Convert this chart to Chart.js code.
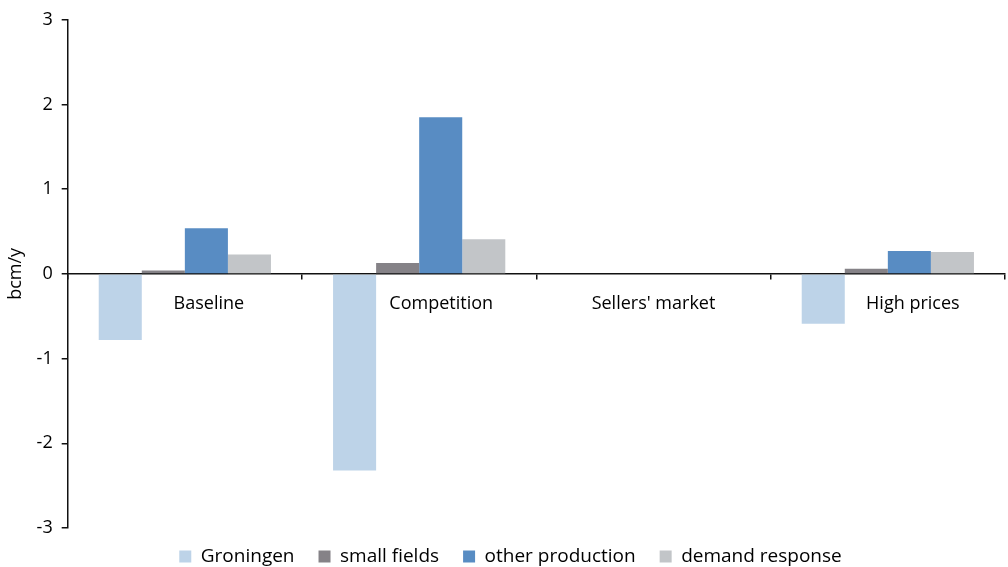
<!DOCTYPE html>
<html>
<head>
<meta charset="utf-8">
<script src="https://cdn.jsdelivr.net/npm/chart.js@4"></script>
<style>
    html, body { margin: 0; padding: 0; background: #fff; }
    #wrap { width: 1008px; height: 567px; }
</style>
</head>
<body>
<div id="wrap"><canvas id="gasChart"></canvas></div>
<script>
// Scenarios and change in gas supply/demand (bcm/y)
const categories = ['Baseline', 'Competition', "Sellers' market", 'High prices'];
const groningen = [-0.78, -2.32, 0, -0.59];
const smallFields = [0.04, 0.13, 0, 0.06];
const otherProduction = [0.54, 1.85, 0, 0.27];
const demandResponse = [0.23, 0.41, 0, 0.26];
const yTicks = [-3, -2, -1, 0, 1, 2, 3];

// Labels sit just below the zero line, nudged right where the Groningen bar is
const labelShift = [24, 22, 0, 25];

const fontFamily = '"Open Sans", "Noto Sans", sans-serif';

// Draw category names under the zero line
const categoryLabels = {
    id: 'categoryLabels',
    afterLayout(chart) {
        // pull the legend a little closer to the plot, nudge it right
        if (chart.legend) {
            chart.legend.top -= 5;
            chart.legend.bottom -= 5;
            chart.legend.left += 8;
            chart.legend.right += 8;
        }
    },
    afterDatasetsDraw(chart) {
        const ctx = chart.ctx;
        const x = chart.scales.x;
        const y = chart.scales.y;
        const zeroY = y.getPixelForValue(0);
        ctx.save();
        ctx.font = '18px ' + fontFamily;
        ctx.fillStyle = '#000';
        ctx.textAlign = 'center';
        ctx.textBaseline = 'middle';
        categories.forEach((name, i) => {
            ctx.fillText(name, x.getPixelForValue(i) + labelShift[i], zeroY + 30);
        });
        ctx.restore();
    }
};

const ctx = document.getElementById('gasChart').getContext('2d');
new Chart(ctx, {
    type: 'bar',
    data: {
        labels: categories,
        datasets: [
            { label: 'Groningen', data: groningen, backgroundColor: '#BDD3E8' },
            { label: 'small fields', data: smallFields, backgroundColor: '#858287' },
            { label: 'other production', data: otherProduction, backgroundColor: '#588CC3' },
            { label: 'demand response', data: demandResponse, backgroundColor: '#C2C5C8' }
        ]
    },
    options: {
        responsive: true,
        maintainAspectRatio: false,
        animation: false,
        categoryPercentage: 0.735,
        barPercentage: 1,
        layout: { padding: { top: 19, right: 3, left: 0, bottom: -14 } },
        plugins: {
            legend: {
                position: 'bottom',
                labels: {
                    boxWidth: 12,
                    boxHeight: 12,
                    padding: 24,
                    color: '#000',
                    font: { family: fontFamily, size: 19 }
                }
            },
            tooltip: { enabled: false }
        },
        scales: {
            x: {
                position: { y: 0 },
                offset: true,
                grid: {
                    offset: true,
                    drawOnChartArea: false,
                    drawTicks: true,
                    tickLength: 5,
                    color: '#111',
                    lineWidth: 1.5
                },
                border: { color: '#111', width: 1.5 },
                ticks: { display: false }
            },
            y: {
                min: -3,
                max: 3,
                afterBuildTicks(scale) {
                    scale.ticks = yTicks.map(v => ({ value: v }));
                },
                grid: {
                    drawOnChartArea: false,
                    drawTicks: true,
                    tickLength: 6,
                    color: '#111',
                    lineWidth: 1.5
                },
                border: { color: '#111', width: 1.5 },
                ticks: {
                    color: '#000',
                    padding: 9,
                    font: { family: fontFamily, size: 18 }
                },
                title: {
                    display: true,
                    text: 'bcm/y',
                    color: '#000',
                    padding: { top: 5, bottom: 1 },
                    font: { family: fontFamily, size: 18 }
                }
            }
        }
    },
    plugins: [categoryLabels]
});
</script>
</body>
</html>
